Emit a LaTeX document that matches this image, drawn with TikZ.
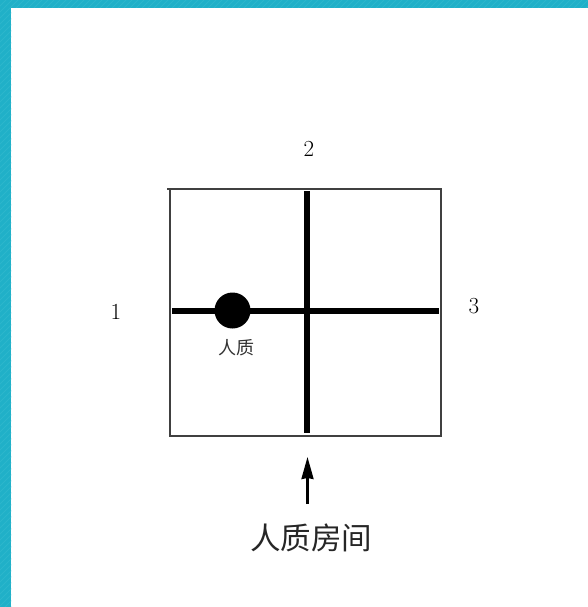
\documentclass[tikz,border=0pt]{standalone}
\usepackage{fontspec}
\newfontfamily\cjk{Noto Sans CJK SC}
\usepackage{xcolor}
\usetikzlibrary{positioning,arrows.meta}
\definecolor{bandteal}{HTML}{20B0C8}
\definecolor{bandlight}{HTML}{2CB6CC}
\definecolor{walledge}{HTML}{404040}
\begin{document}
\begin{tikzpicture}[x=1pt,y=-1pt,
  outer/.style={draw=walledge,line width=2pt},
  wall/.style={draw=black,line width=6pt},
  num/.style={font=\fontsize{23}{23}\selectfont,inner sep=0pt},
  a/.style={-{Stealth[length=22pt,width=12pt,inset=1pt]},black,line width=2.2pt}]
\useasboundingbox (0,0) rectangle (588,607);
% frame band
\fill[bandteal] (0,0) rectangle (588,8);
\fill[bandteal] (0,0) rectangle (11,607);
\begin{scope}
\clip (0,0) rectangle (588,8) (0,8) rectangle (11,607);
\foreach \i in {0,6,...,1200}
  \draw[bandlight,line width=1pt] (\i,0) -- (\i-620,620);
\end{scope}
% room
\coordinate (nw) at (169.5,188.5);
\coordinate (ne) at (441,188.5);
\coordinate (se) at (441,435.5);
\coordinate (sw) at (169.5,435.5);
\coordinate (nwstub) at (167,188.5);
\draw[outer] (nwstub) -- (ne) -- (se) -- (sw) -- (nw);
\coordinate (topwall) at (306.5,191);
\coordinate (botwall) at (306.5,433);
\coordinate (leftwall) at (172,310.5);
\coordinate (rightwall) at (439,310.5);
\draw[wall] (topwall) -- (botwall);
\draw[wall] (leftwall) -- (rightwall);
\node[circle,fill=black,minimum size=36pt,inner sep=0pt] (hostage) at (232.5,310.5) {};
\node[font=\cjk\fontsize{18}{18}\selectfont,text=black!80,inner sep=0pt] (hostagelabel) at (236,348) {人质};
% side numbers
\node[num] (side1) at (116,311.5) {1};
\node[num] (side2) at (309,148.5) {2};
\node[num] (side3) at (474,306.5) {3};
% pointer
\coordinate (arrowtail) at (307.5,504);
\coordinate (arrowhead) at (307.5,457);
\draw[a] (arrowtail) -- (arrowhead);
\node[font=\cjk\fontsize{30.5}{30.5}\selectfont,text=black!85,inner sep=0pt] (roomlabel) at (311,538) {人质房间};
\end{tikzpicture}
\end{document}
